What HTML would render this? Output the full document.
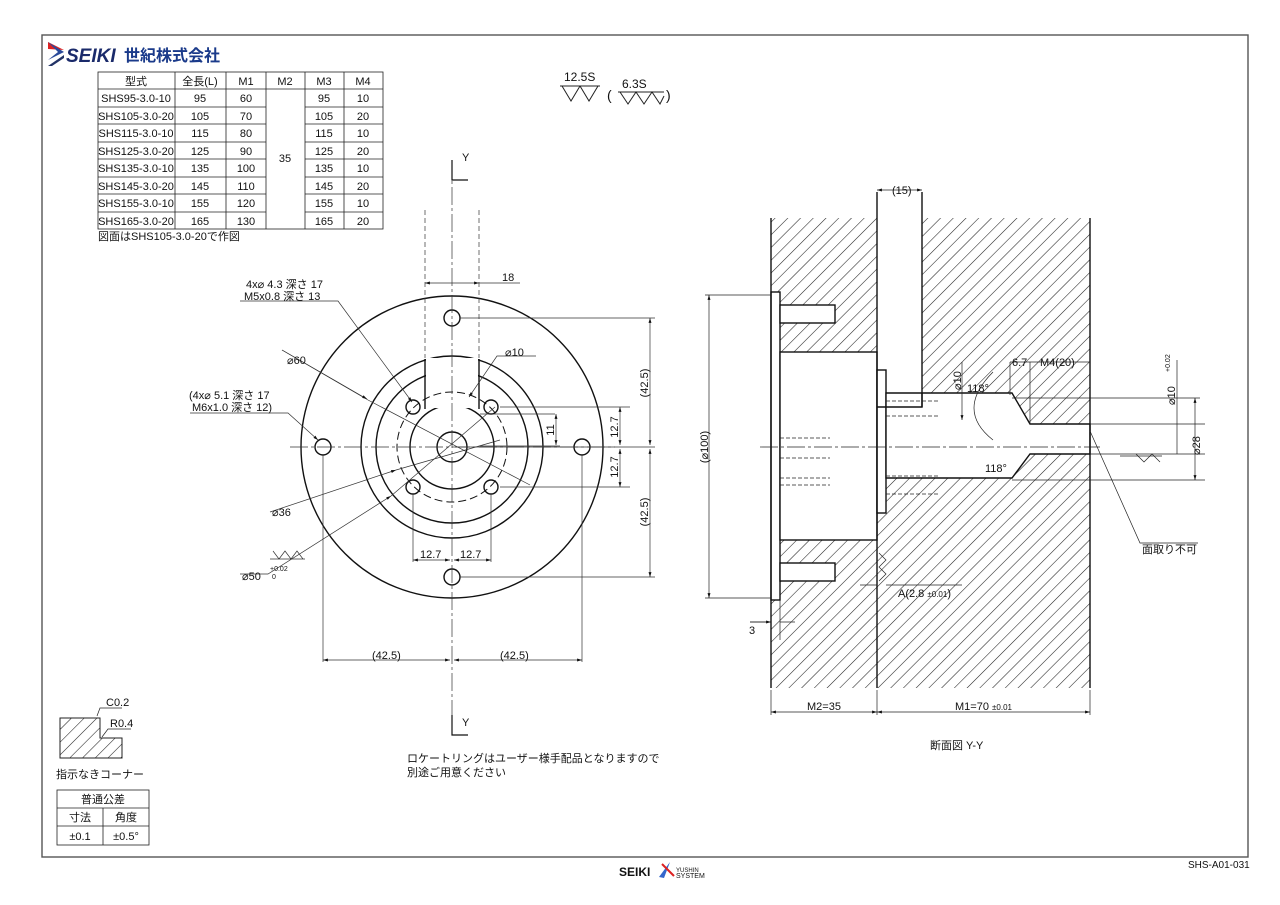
<!DOCTYPE html><html><head><meta charset="utf-8"><style>
body{margin:0;background:#fff}svg{display:block}
text{font-family:"Liberation Sans","Noto Sans CJK JP",sans-serif;fill:#111}
</style></head><body>
<svg width="1280" height="905" viewBox="0 0 1280 905" xmlns="http://www.w3.org/2000/svg">
<defs>
<pattern id="h" width="9" height="9" patternUnits="userSpaceOnUse" patternTransform="rotate(45)"><line x1="0" y1="0" x2="0" y2="9" stroke="#222" stroke-width="1.1"/></pattern>
<marker id="a" viewBox="0 0 10 10" refX="10" refY="5" markerWidth="7" markerHeight="7" orient="auto-start-reverse"><path d="M0,2 L10,5 L0,8z" fill="#111"/></marker>
</defs>
<rect x="42" y="35" width="1206" height="822" fill="none" stroke="#555" stroke-width="1.4"/>
<!-- logo -->
<path d="M48,42 L64,50 L48,49z" fill="#d22"/><path d="M48,66 L64,55 L64,58 L52,66z" fill="#236"/><path d="M48,42L58,52L48,60L64,52z" fill="#2a4a9a"/>
<text x="66" y="62" font-size="19" font-weight="bold" font-style="italic" style="fill:#1a2a6a">SEIKI</text>
<text x="124" y="61" font-size="16" font-weight="bold" style="fill:#1a3a8a">世紀株式会社</text>
<!-- table -->
<g stroke="#222" stroke-width="0.8" fill="none">
<rect x="98" y="72" width="285" height="157"/>
<line x1="175" y1="72" x2="175" y2="229"/><line x1="226" y1="72" x2="226" y2="229"/><line x1="266" y1="72" x2="266" y2="229"/><line x1="305" y1="72" x2="305" y2="229"/><line x1="344" y1="72" x2="344" y2="229"/>
<line x1="98" y1="89" x2="383" y2="89"/>
<path d="M98,107H266M305,107H383M98,124H266M305,124H383M98,142H266M305,142H383M98,159H266M305,159H383M98,177H266M305,177H383M98,194H266M305,194H383M98,212H266M305,212H383"/>
</g>
<g font-size="11" text-anchor="middle">
<text x="136" y="85">型式</text><text x="200" y="85">全長(L)</text><text x="246" y="85">M1</text><text x="285" y="85">M2</text><text x="324" y="85">M3</text><text x="363" y="85">M4</text>
<text x="136" y="102">SHS95-3.0-10</text><text x="200" y="102">95</text><text x="246" y="102">60</text><text x="324" y="102">95</text><text x="363" y="102">10</text>
<text x="136" y="120">SHS105-3.0-20</text><text x="200" y="120">105</text><text x="246" y="120">70</text><text x="324" y="120">105</text><text x="363" y="120">20</text>
<text x="136" y="137">SHS115-3.0-10</text><text x="200" y="137">115</text><text x="246" y="137">80</text><text x="324" y="137">115</text><text x="363" y="137">10</text>
<text x="136" y="155">SHS125-3.0-20</text><text x="200" y="155">125</text><text x="246" y="155">90</text><text x="324" y="155">125</text><text x="363" y="155">20</text>
<text x="136" y="172">SHS135-3.0-10</text><text x="200" y="172">135</text><text x="246" y="172">100</text><text x="324" y="172">135</text><text x="363" y="172">10</text>
<text x="136" y="190">SHS145-3.0-20</text><text x="200" y="190">145</text><text x="246" y="190">110</text><text x="324" y="190">145</text><text x="363" y="190">20</text>
<text x="136" y="207">SHS155-3.0-10</text><text x="200" y="207">155</text><text x="246" y="207">120</text><text x="324" y="207">155</text><text x="363" y="207">10</text>
<text x="136" y="225">SHS165-3.0-20</text><text x="200" y="225">165</text><text x="246" y="225">130</text><text x="324" y="225">165</text><text x="363" y="225">20</text>
<text x="285" y="162">35</text>
</g>
<text x="98" y="240" font-size="11">図面はSHS105-3.0-20で作図</text>
<!-- surface symbols -->
<text x="564" y="81" font-size="12">12.5S</text>
<path d="M560,86H600M562,86L571,101L580,86M580,86L589,101L598,86" stroke="#222" fill="none"/>
<text x="607" y="100" font-size="14">(</text><text x="622" y="88" font-size="12">6.3S</text>
<path d="M618,92H664M620,92L628,104L636,92L644,104L652,92L660,104L664,96" stroke="#222" fill="none"/>
<text x="666" y="100" font-size="14">)</text>

<!-- FRONT VIEW -->
<g stroke="#111" fill="none" stroke-width="1.4">
<circle cx="452" cy="447" r="151"/>
<circle cx="452" cy="447" r="91"/>
<circle cx="452" cy="447" r="76"/>
<circle cx="452" cy="447" r="42"/>
<circle cx="452" cy="447" r="15"/>
<circle cx="452" cy="318" r="8"/><circle cx="323" cy="447" r="8"/><circle cx="582" cy="447" r="8"/><circle cx="452" cy="577" r="8"/>
<circle cx="413" cy="407" r="7"/><circle cx="491" cy="407" r="7"/><circle cx="413" cy="487" r="7"/><circle cx="491" cy="487" r="7"/>
</g>
<rect x="426" y="358" width="52" height="50" fill="#fff"/>
<path d="M425,359V409M479,359V409" stroke="#111" stroke-width="1.4" fill="none"/>
<circle cx="452" cy="447" r="55" stroke="#111" fill="none" stroke-dasharray="8,4"/>
<g stroke="#333" stroke-width="0.7" fill="none">
<line x1="452" y1="160" x2="452" y2="735" stroke-dasharray="18,3,3,3"/>
<line x1="290" y1="447" x2="615" y2="447" stroke-dasharray="18,3,3,3"/>
<line x1="425" y1="210" x2="425" y2="358" stroke-dasharray="5,3"/><line x1="479" y1="210" x2="479" y2="358" stroke-dasharray="5,3"/>
<path d="M452,160V180H468M452,715V735H468" stroke="#111" stroke-width="1.2"/>
<line x1="425" y1="283" x2="479" y2="283" marker-start="url(#a)" marker-end="url(#a)"/><line x1="479" y1="283" x2="520" y2="283"/>
<path d="M460,318H655M460,577H655M500,407H630M500,487H630M455,447H655"/>
<line x1="650" y1="318" x2="650" y2="445" marker-start="url(#a)" marker-end="url(#a)"/>
<line x1="650" y1="449" x2="650" y2="577" marker-start="url(#a)" marker-end="url(#a)"/>
<line x1="620" y1="407" x2="620" y2="445" marker-start="url(#a)" marker-end="url(#a)"/>
<line x1="620" y1="449" x2="620" y2="487" marker-start="url(#a)" marker-end="url(#a)"/>
<path d="M480,414H555M480,446H560"/>
<line x1="556" y1="414" x2="556" y2="445" marker-start="url(#a)" marker-end="url(#a)"/>
<path d="M413,494V562M491,494V562M323,455V662M582,455V662"/>
<line x1="413" y1="560" x2="450" y2="560" marker-start="url(#a)" marker-end="url(#a)"/>
<line x1="454" y1="560" x2="491" y2="560" marker-start="url(#a)" marker-end="url(#a)"/>
<line x1="323" y1="660" x2="450" y2="660" marker-start="url(#a)" marker-end="url(#a)"/>
<line x1="454" y1="660" x2="582" y2="660" marker-start="url(#a)" marker-end="url(#a)"/>
<path d="M240,301H338L412,402" marker-end="url(#a)"/>
<path d="M282,350L368,400 L530,485"/><path d="M282,350L367,399" marker-end="url(#a)"/>
<path d="M536,356H497L469,397" marker-end="url(#a)"/>
<path d="M190,413H288L318,440" marker-end="url(#a)"/>
<path d="M270,512L396,470" marker-end="url(#a)"/><path d="M396,470L500,440"/>
<path d="M240,574H268L391,496" marker-end="url(#a)"/><path d="M391,496L495,407"/>
<path d="M270,559H305M273,551L279,559L285,551L291,559L297,551L303,559"/>
</g>
<g font-size="11">
<text x="502" y="281">18</text>
<text x="246" y="288">4x⌀ 4.3 深さ 17</text><text x="244" y="300">M5x0.8 深さ 13</text>
<text x="287" y="364">⌀60</text><text x="505" y="356">⌀10</text>
<text x="189" y="399">(4x⌀ 5.1 深さ 17</text><text x="192" y="411">M6x1.0 深さ 12)</text>
<text x="272" y="516">⌀36</text>
<text x="242" y="580">⌀50</text><text x="270" y="571" font-size="7">+0.02</text><text x="272" y="579" font-size="7">0</text>
<text x="420" y="558">12.7</text><text x="460" y="558">12.7</text>
<text x="372" y="659">(42.5)</text><text x="500" y="659">(42.5)</text>
<text x="462" y="161">Y</text><text x="462" y="726">Y</text>
<text transform="translate(648,383) rotate(-90)" text-anchor="middle">(42.5)</text>
<text transform="translate(648,512) rotate(-90)" text-anchor="middle">(42.5)</text>
<text transform="translate(618,427) rotate(-90)" text-anchor="middle">12.7</text>
<text transform="translate(618,467) rotate(-90)" text-anchor="middle">12.7</text>
<text transform="translate(554,430) rotate(-90)" text-anchor="middle">11</text>
</g>

<!-- SECTION VIEW -->
<rect x="771" y="218" width="319" height="470" fill="url(#h)"/>
<g fill="#fff" stroke="#111" stroke-width="1.4">
<rect x="877" y="192" width="45" height="215" stroke="none"/>
<rect x="771" y="292" width="9" height="308"/>
<rect x="780" y="352" width="97" height="188"/>
<rect x="877" y="370" width="9" height="143"/>
<path d="M886,393H1012L1030,424H1090V454H1030L1012,478H886z"/>
<rect x="780" y="305" width="55" height="18"/>
<rect x="780" y="563" width="55" height="18"/>
</g>
<g stroke="#111" fill="none" stroke-width="1.4">
<path d="M771,218V688M1090,218V688M877,218V688M877,192V407H922V192"/>
<path d="M922,393V407"/>
</g>
<g stroke="#222" fill="none" stroke-width="0.7">
<path d="M780,438H830M780,458H830M780,478H830M780,485H830" stroke-dasharray="4,2"/>
<path d="M886,401H940M886,416H940M886,476H940M886,494H940" stroke-dasharray="4,2"/>
<line x1="760" y1="447" x2="1100" y2="447" stroke-dasharray="18,3,3,3"/>
<path d="M1012,398H1200M1090,424H1205M1090,454H1205M1012,480H1205M1090,431L1140,543H1198"/>
<line x1="1195" y1="398" x2="1195" y2="480" marker-start="url(#a)" marker-end="url(#a)"/>
<line x1="1177" y1="360" x2="1177" y2="454"/>
<line x1="709" y1="295" x2="709" y2="598" marker-start="url(#a)" marker-end="url(#a)"/>
<path d="M705,295H771M705,598H771"/>
<line x1="877" y1="190" x2="922" y2="190" marker-start="url(#a)" marker-end="url(#a)"/>
<path d="M771,690V715M877,690V715M1090,690V715"/>
<line x1="771" y1="712" x2="877" y2="712" marker-start="url(#a)" marker-end="url(#a)"/>
<line x1="877" y1="712" x2="1090" y2="712" marker-start="url(#a)" marker-end="url(#a)"/>
<path d="M780,600V640M750,622H771M780,622H795"/><line x1="750" y1="622" x2="771" y2="622" marker-end="url(#a)"/>
<path d="M860,585H877M886,585H962"/>
<line x1="962" y1="362" x2="962" y2="420" marker-end="url(#a)"/>
<path d="M1010,362V395M1030,362V424M1010,362H1030M1030,362H1090"/>
<path d="M993,372Q955,410 993,440"/>
<path d="M1120,456H1162M1136,454L1144,462L1152,454L1160,462"/>
<path d="M879,553L886,560L879,567L886,574L879,581"/>
</g>
<g font-size="11">
<text x="892" y="194">(15)</text>
<text transform="translate(708,447) rotate(-90)" text-anchor="middle">(⌀100)</text>
<text x="1012" y="366">6.7</text><text x="1040" y="366">M4(20)</text>
<text transform="translate(961,390) rotate(-90)">⌀10</text>
<text x="967" y="392">118°</text><text x="985" y="472">118°</text>
<text transform="translate(1175,405) rotate(-90)">⌀10</text>
<text transform="translate(1170,372) rotate(-90)" font-size="7">+0.02</text>
<text transform="translate(1200,455) rotate(-90)">⌀28</text>
<text x="1142" y="553">面取り不可</text>
<text x="898" y="597">A(2.8 <tspan font-size="8">±0.01</tspan>)</text>
<text x="749" y="634">3</text>
<text x="807" y="710">M2=35</text><text x="955" y="710">M1=70 <tspan font-size="8">±0.01</tspan></text>
<text x="930" y="749">断面図 Y-Y</text>
</g>

<!-- bottom-left -->
<path d="M60,718H100V738H122V758H60z" fill="url(#h)" stroke="#222"/>
<g stroke="#222" fill="none" stroke-width="0.7"><path d="M122,708H100L97,716M131,729H108L102,737"/></g>
<text x="106" y="706" font-size="11">C0.2</text><text x="110" y="727" font-size="11">R0.4</text>
<text x="56" y="778" font-size="11">指示なきコーナー</text>
<g stroke="#222" fill="none" stroke-width="0.8"><rect x="57" y="790" width="92" height="55"/><path d="M57,808H149M57,826H149M103,808V845"/></g>
<g font-size="11" text-anchor="middle"><text x="103" y="803">普通公差</text><text x="80" y="821">寸法</text><text x="126" y="821">角度</text><text x="80" y="840">±0.1</text><text x="126" y="840">±0.5°</text></g>
<text x="407" y="762" font-size="11">ロケートリングはユーザー様手配品となりますので</text>
<text x="407" y="776" font-size="11">別途ご用意ください</text>
<!-- footer -->
<text x="619" y="876" font-size="12" font-weight="bold">SEIKI</text>
<path d="M659,877L670,862L664,878z" fill="#36c"/><path d="M662,864L674,876" stroke="#d22" stroke-width="2"/>
<text x="676" y="872" font-size="6">YUSHIN</text><text x="676" y="878" font-size="7">SYSTEM</text>
<text x="1188" y="868" font-size="10">SHS-A01-031</text>
</svg>
</body></html>
